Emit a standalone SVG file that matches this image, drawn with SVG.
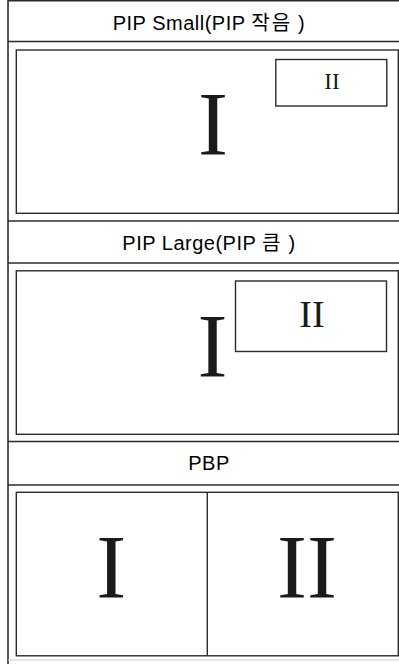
<svg xmlns="http://www.w3.org/2000/svg" width="399" height="664" viewBox="0 0 399 664">
<style>
.ln{stroke:#2b2b2b;stroke-width:1.6;fill:none}
.bx{stroke:#2b2b2b;stroke-width:1.4;fill:none}
.hd{font-family:"Liberation Sans",Arial,sans-serif;font-size:20px;letter-spacing:0.5px;fill:#000;text-anchor:middle}
.hk{font-family:"Liberation Sans","Noto Sans CJK KR",sans-serif;letter-spacing:2px}
.rn{font-family:"Liberation Serif","Times New Roman",serif;fill:#1a1a1a;text-anchor:middle}
</style>
<rect x="0" y="0" width="399" height="664" fill="#fff"/>
<g id="frame">
<line class="ln" x1="8" y1="0" x2="8" y2="664"/>
<line class="ln" x1="8" y1="0.8" x2="399" y2="0.8"/>
<line x1="8" y1="660" x2="399" y2="660" stroke="#ccc" stroke-width="1"/>
</g>
<g id="pip-small">
<line class="ln" x1="8" y1="41.5" x2="399" y2="41.5"/>
<text class="hd" x="209" y="29.5">PIP Small(PIP <tspan class="hk">작음</tspan> )</text>
<rect class="bx" x="16.3" y="50" width="382" height="163.3"/>
<text class="rn" x="213" y="155" font-size="90">I</text>
<rect class="bx" x="275.8" y="59.5" width="111" height="46.5"/>
<text class="rn" x="332" y="89.3" font-size="23">II</text>
</g>
<g id="pip-large">
<line class="ln" x1="8" y1="221" x2="399" y2="221"/>
<line class="ln" x1="8" y1="263" x2="399" y2="263"/>
<text class="hd" x="209" y="250">PIP Large(PIP <tspan class="hk">큼</tspan> )</text>
<rect class="bx" x="16.3" y="270.8" width="382" height="163.5"/>
<text class="rn" x="212.5" y="376.7" font-size="90">I</text>
<rect class="bx" x="235.5" y="281" width="151" height="70.5" stroke-width="1.8"/>
<text class="rn" x="312" y="326.7" font-size="38">II</text>
</g>
<g id="pbp">
<line class="ln" x1="8" y1="441.5" x2="399" y2="441.5"/>
<line class="ln" x1="8" y1="485" x2="399" y2="485"/>
<text class="hd" x="209" y="469.5">PBP</text>
<rect class="bx" x="16.3" y="492.3" width="382" height="163.5"/>
<line class="bx" x1="207.3" y1="492.3" x2="207.3" y2="655.8"/>
<text class="rn" x="111.2" y="598.3" font-size="90">I</text>
<text class="rn" x="307" y="598.3" font-size="90">II</text>
</g>
</svg>
